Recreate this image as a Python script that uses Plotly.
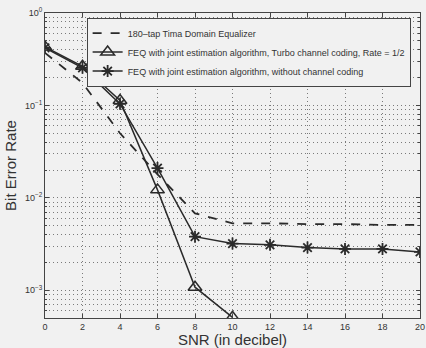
import plotly.graph_objects as go

snr = [0, 2, 4, 6, 8, 10, 12, 14, 16, 18, 20]
tde_ber = [0.37, 0.175, 0.05, 0.018, 0.0068, 0.0053, 0.0053, 0.0052, 0.0052, 0.0051, 0.0051]
turbo_snr = [0, 2, 4, 6, 8, 10]
turbo_ber = [0.43, 0.265, 0.113, 0.0122, 0.00108, 0.00051]
nocode_ber = [0.42, 0.255, 0.104, 0.021, 0.0038, 0.0032, 0.0031, 0.0029, 0.0028, 0.0028, 0.0026]

names = ["180\u2013tap Tima Domain Equalizer",
         "FEQ with joint estimation algorithm, Turbo channel coding, Rate = 1/2",
         "FEQ with joint estimation algorithm, without channel coding"]
ytick_vals = [1e-3, 1e-2, 1e-1, 1]
ytick_text = ["10<sup>\u22123</sup>", "10<sup>\u22122</sup>", "10<sup>\u22121</sup>", "10<sup>0</sup>"]
yminor_vals = [m * d for d in [1e-4, 1e-3, 1e-2, 1e-1] for m in range(2, 10)]
xtick_vals = [0, 2, 4, 6, 8, 10, 12, 14, 16, 18, 20]

ink = "#2a2a2a"
gdash = "1px,3px"
gcol = "#7a7a7a"
fig = go.Figure()
fig.add_trace(go.Scatter(x=snr, y=tde_ber, mode="lines", name=names[0],
                         line=dict(color=ink, width=1.8, dash="dash")))
fig.add_trace(go.Scatter(x=turbo_snr, y=turbo_ber, mode="lines+markers", name=names[1],
                         line=dict(color=ink, width=1.5),
                         marker=dict(symbol="triangle-up-open", size=12, color=ink, line=dict(width=1.5))))
fig.add_trace(go.Scatter(x=snr, y=nocode_ber, mode="lines+markers", name=names[2],
                         line=dict(color=ink, width=1.5),
                         marker=dict(symbol="asterisk-open", size=10, color=ink, line=dict(width=1.8))))

fig.update_layout(
    width=426, height=348,
    margin=dict(l=45, r=6, t=13, b=30, autoexpand=False),
    paper_bgcolor="#f1f1f1", plot_bgcolor="#f1f1f1",
    font=dict(family="Liberation Sans, Arial, sans-serif", color="#333", size=9),
    showlegend=True,
    legend=dict(x=0.111, y=0.985, xanchor="left", yanchor="top", xref="paper", yref="paper",
                bgcolor="#f1f1f1", bordercolor="#444", borderwidth=1,
                font=dict(size=9, color="#333"), tracegroupgap=0,
                itemwidth=30),
    xaxis=dict(range=[0, 20], tickvals=xtick_vals, ticks="inside", ticklen=4,
               tickcolor="#444", showline=True, linecolor="#444", linewidth=1, mirror="ticks",
               showgrid=True, zeroline=False, gridcolor=gcol, griddash=gdash, gridwidth=1,
               title=dict(text="SNR (in decibel)", font=dict(size=15, color="#333"), standoff=3),
               tickfont=dict(size=9)),
    yaxis=dict(type="log", range=[-3.3, 0], tickvals=ytick_vals, ticktext=ytick_text,
               ticks="inside", ticklen=4, tickcolor="#444",
               showline=True, linecolor="#444", linewidth=1, mirror="ticks",
               showgrid=True, zeroline=False, gridcolor=gcol, griddash=gdash, gridwidth=1,
               minor=dict(tickmode="array", tickvals=yminor_vals,
                          showgrid=True, gridcolor=gcol, griddash=gdash, gridwidth=1,
                          ticks="inside", ticklen=2, tickcolor="#444"),
               title=dict(text="Bit Error Rate", font=dict(size=15, color="#333"), standoff=4),
               tickfont=dict(size=9)),
)
fig.write_html("out.html")
